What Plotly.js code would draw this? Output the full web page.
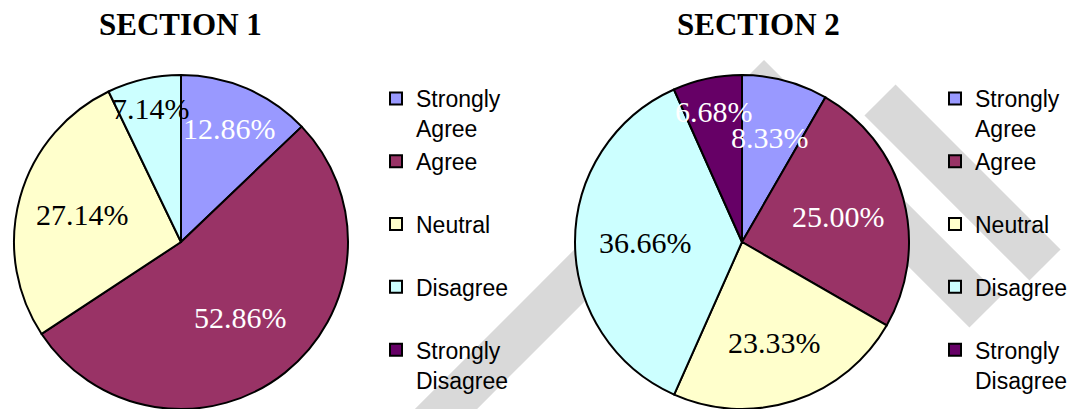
<!DOCTYPE html>
<html><head><meta charset="utf-8">
<script src="https://cdn.plot.ly/plotly-3.0.1.min.js"></script>
<style>html,body{margin:0;padding:0;background:#fff}#chart{width:1072px;height:409px}</style>
</head><body><div id="chart"></div>
<script>
const categories = ['Strongly Agree', 'Agree', 'Neutral', 'Disagree', 'Strongly Disagree'];
const legendLabels = ['Strongly<br>Agree', 'Agree<br> ', 'Neutral<br> ', 'Disagree<br> ', 'Strongly<br>Disagree'];
const section1Values = [12.86, 52.86, 27.14, 7.14, 0];
const section2Values = [8.33, 25.00, 23.33, 36.66, 6.68];
const sectionTitles = ['SECTION 1', 'SECTION 2'];

// styling (kept separate from the data)
const sliceColors = ['#9999FF', '#993366', '#FFFFCC', '#CCFFFF', '#660066'];
const labelColors = ['#FFFFFF', '#FFFFFF', '#000000', '#000000', '#FFFFFF'];
const labelRadius1 = [0.74, 0.575, 0.61, 0.82, 0.8];
const labelRadius2 = [0.65, 0.60, 0.63, 0.575, 0.80];

const W = 1072, H = 409;
const PIE_Y = [0, 334 / H];
const R = 167;

function pieTrace(values, x0, x1, legendId, group) {
  return {
    type: 'pie',
    labels: legendLabels,
    values: values,
    customdata: categories,
    sort: false,
    direction: 'clockwise',
    rotation: 0,
    marker: {colors: sliceColors, line: {color: '#000000', width: 2}},
    textinfo: 'none',
    domain: {x: [x0 / W, x1 / W], y: PIE_Y},
    legend: legendId,
    legendgroup: group,
    hoverinfo: 'none'
  };
}

// percentage labels placed on each slice's bisector (angles from the values)
function sliceLabels(values, x0, x1, radii) {
  const total = values.reduce((a, b) => a + b, 0);
  const cx = (x0 + x1) / 2, cy = H - (PIE_Y[1] * H) / 2;
  let cum = 0;
  const out = [];
  values.forEach((v, i) => {
    const mid = (cum + v / 2) / total * 2 * Math.PI;
    cum += v;
    if (v <= 0) return;
    const r = R * radii[i];
    const px = cx + r * Math.sin(mid), py = cy - r * Math.cos(mid);
    out.push({
      text: (v / total * 100).toFixed(2) + '%',
      x: px / W, y: 1 - py / H, xref: 'paper', yref: 'paper',
      xanchor: 'center', yanchor: 'middle', showarrow: false,
      font: {family: 'Liberation Serif', size: 30, color: labelColors[i]}
    });
  });
  return out;
}

const data = [
  pieTrace(section1Values, 14, 348, 'legend', 's1'),
  pieTrace(section2Values, 575, 909, 'legend2', 's2')
];
const legendBase = {
  xanchor: 'left', yanchor: 'top', y: 1 - 77 / H,
  font: {family: 'Liberation Sans, Arial, sans-serif', size: 23, color: '#000000'},
  valign: 'top', bgcolor: 'rgba(0,0,0,0)', traceorder: 'normal'
};
function px(x, y) { return (x / W).toFixed(5) + ',' + (1 - y / H).toFixed(5); }
const wm = '#D9D9D9';
const layout = {
  width: W, height: H,
  margin: {l: 0, r: 0, t: 0, b: 0, autoexpand: false},
  paper_bgcolor: '#FFFFFF',
  showlegend: true,
  legend: Object.assign({}, legendBase, {x: 376 / W}),
  legend2: Object.assign({}, legendBase, {x: 935 / W}),
  shapes: [
    {type: 'path', xref: 'paper', yref: 'paper', layer: 'below',
     path: 'M' + px(430, 425) + 'L' + px(764, 91) + 'L' + px(985, 312),
     line: {color: wm, width: 44}},
    {type: 'line', xref: 'paper', yref: 'paper', layer: 'below',
     x0: 880 / W, y0: 1 - 100 / H, x1: 1045 / W, y1: 1 - 265 / H,
     line: {color: wm, width: 44}}
  ],
  annotations: [
    {text: '<b>' + sectionTitles[0] + '</b>', x: 180 / W, y: 1 - 24 / H, xref: 'paper', yref: 'paper',
     xanchor: 'center', yanchor: 'middle', showarrow: false,
     font: {family: 'Liberation Serif', size: 31, color: '#000000'}},
    {text: '<b>' + sectionTitles[1] + '</b>', x: 758 / W, y: 1 - 24 / H, xref: 'paper', yref: 'paper',
     xanchor: 'center', yanchor: 'middle', showarrow: false,
     font: {family: 'Liberation Serif', size: 31, color: '#000000'}}
  ].concat(sliceLabels(section1Values, 14, 348, labelRadius1))
   .concat(sliceLabels(section2Values, 575, 909, labelRadius2))
};
Plotly.newPlot('chart', data, layout, {staticPlot: true, displayModeBar: false});
</script>
</body></html>
